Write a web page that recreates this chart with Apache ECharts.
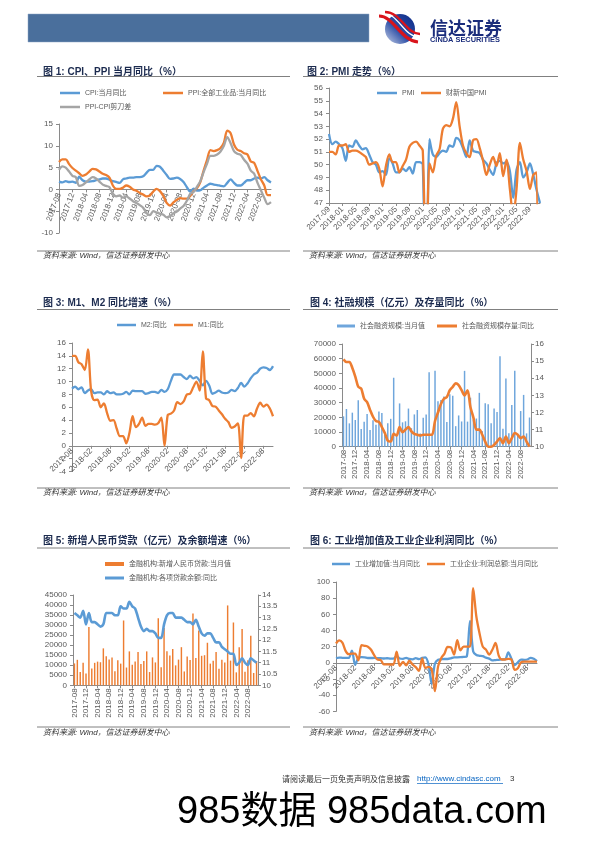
<!DOCTYPE html>
<html><head><meta charset="utf-8">
<script src="https://cdn.jsdelivr.net/npm/echarts@6/dist/echarts.min.js"></script>
<style>html,body{margin:0;padding:0;background:#fff;}#c{width:596px;height:842px;}</style>
</head><body><div id="c"></div>
<script>
// ---------- categories ----------
const months = ['2017-08','2017-09','2017-10','2017-11','2017-12',
'2018-01','2018-02','2018-03','2018-04','2018-05','2018-06','2018-07','2018-08','2018-09','2018-10','2018-11','2018-12',
'2019-01','2019-02','2019-03','2019-04','2019-05','2019-06','2019-07','2019-08','2019-09','2019-10','2019-11','2019-12',
'2020-01','2020-02','2020-03','2020-04','2020-05','2020-06','2020-07','2020-08','2020-09','2020-10','2020-11','2020-12',
'2021-01','2021-02','2021-03','2021-04','2021-05','2021-06','2021-07','2021-08','2021-09','2021-10','2021-11','2021-12',
'2022-01','2022-02','2022-03','2022-04','2022-05','2022-06','2022-07','2022-08','2022-09','2022-10','2022-11'];
const pmiMonths = ['2017-09','2017-10','2017-11','2017-12',
'2018-01','2018-02','2018-03','2018-04','2018-05','2018-06','2018-07','2018-08','2018-09','2018-10','2018-11','2018-12',
'2019-01','2019-02','2019-03','2019-04','2019-05','2019-06','2019-07','2019-08','2019-09','2019-10','2019-11','2019-12',
'2020-01','2020-02','2020-03','2020-04','2020-05','2020-06','2020-07','2020-08','2020-09','2020-10','2020-11','2020-12',
'2021-01','2021-02','2021-03','2021-04','2021-05','2021-06','2021-07','2021-08','2021-09','2021-10','2021-11','2021-12',
'2022-01','2022-02','2022-03','2022-04','2022-05','2022-06','2022-07','2022-08','2022-09','2022-10','2022-11','2022-12'];

// ---------- chart 1: CPI / PPI ----------
const cpi = [1.8,1.6,1.9,1.7,1.8, 1.5,2.9,2.1,1.8,1.8,1.9,2.1,2.3,2.5,2.5,2.2,1.9,
 1.7,1.5,2.3,2.5,2.7,2.7,2.8,2.8,3.0,3.8,4.5,4.5, 5.4,5.2,4.3,3.3,2.4,2.5,2.7,2.4,1.7,0.5,-0.5,0.2,
 -0.3,-0.2,0.4,0.9,1.3,1.1,1.0,0.8,0.7,1.5,2.3,1.5, 0.9,0.9,1.5,2.1,2.1,2.5,2.7,2.5,2.8,2.1,1.6];
const ppi = [6.3,6.9,6.9,5.8,4.9, 4.3,3.7,3.1,3.4,4.1,4.7,4.6,4.1,3.6,3.3,2.7,0.9,
 0.1,0.1,0.4,0.9,0.6,0.0,-0.3,-0.8,-1.2,-1.6,-1.4,-0.5, 0.1,-0.4,-1.5,-3.1,-3.7,-3.0,-2.4,-2.0,-2.1,-2.1,-1.5,-0.4,
 0.3,1.7,4.4,6.8,9.0,8.8,9.0,9.5,10.7,13.5,12.9,10.3, 9.1,8.8,8.3,8.0,6.4,6.1,4.2,2.3,0.9,-1.3,-1.3];
const scissors = [4.5,5.3,5.0,4.1,3.1, 2.8,0.8,1.0,1.6,2.3,2.8,2.5,1.8,1.1,0.8,0.5,-1.0,
 -1.6,-1.4,-1.9,-1.6,-2.1,-2.7,-3.1,-3.6,-4.2,-5.4,-5.9,-5.0, -5.3,-5.6,-5.8,-6.4,-6.1,-5.5,-5.1,-4.4,-3.8,-2.6,-1.0,-0.6,
 0.6,1.9,4.0,5.9,7.7,7.7,8.0,8.7,10.0,12.0,10.6,8.8, 8.2,7.9,6.8,5.9,4.3,3.6,1.5,-0.2,-1.9,-3.4,-2.9];

// ---------- chart 2: PMI ----------
const pmi = [52.4,51.6,51.8,51.6, 51.3,50.3,51.5,51.4,51.9,51.5,51.2,51.3,50.8,50.2,50.0,49.4,
 49.5,49.2,50.5,50.1,49.4,49.4,49.7,49.5,49.8,49.3,50.2,50.2, 50.0,35.7,52.0,50.8,50.6,50.9,51.1,51.0,51.5,51.4,52.1,51.9,
 51.3,50.6,51.9,51.1,51.0,50.9,50.4,50.1,49.6,49.2,50.1,50.3, 50.1,50.2,49.5,47.4,49.6,50.2,49.0,49.4,50.1,49.2,48.0,47.0];
const caixinPmi = [51.0,51.0,50.8,51.5, 51.5,51.6,51.0,51.1,51.1,51.0,50.8,50.6,50.0,50.1,50.2,49.7,
 48.3,49.9,50.8,50.2,50.2,49.4,49.9,50.4,51.4,51.7,51.8,51.5, 51.1,40.3,50.1,49.4,50.7,51.2,52.8,53.1,53.0,53.6,54.9,53.0,
 51.5,50.9,50.6,51.9,52.0,51.3,50.3,49.2,50.0,50.6,49.9,50.9, 49.1,50.4,48.1,46.0,48.1,51.7,50.4,49.5,48.1,49.2,49.4,0];

// ---------- chart 3: M1 / M2 ----------
const m2 = [8.9,9.2,8.8,9.1,8.2, 8.6,8.8,8.2,8.3,8.3,8.0,8.5,8.2,8.3,8.0,8.0,8.1,
 8.4,8.0,8.6,8.5,8.5,8.5,8.1,8.2,8.4,8.4,8.2,8.7, 8.4,8.8,10.1,11.1,11.1,11.1,10.7,10.4,10.9,10.5,10.7,10.1,
 9.4,10.1,9.4,8.1,8.3,8.6,8.3,8.2,8.3,8.7,8.5,9.0, 9.8,9.2,9.7,10.5,11.1,11.4,12.0,12.2,12.1,11.8,12.4];
const m1 = [14.0,14.0,13.0,12.7,11.8, 15.0,8.5,7.1,7.2,6.0,6.6,5.1,3.9,4.0,2.7,1.5,1.5,
 0.4,2.0,4.6,2.9,3.4,4.4,3.1,3.4,3.4,3.3,3.5,4.4, 0.0,4.8,5.0,5.5,6.8,6.5,6.9,8.0,8.1,9.1,10.0,8.6,
 14.7,7.4,7.1,6.2,6.1,5.5,4.9,4.2,3.7,2.8,3.0,3.5, -1.9,4.7,4.7,5.1,4.6,5.8,6.7,6.1,6.4,5.8,4.6];

// ---------- chart 4: TSF ----------
const tsfFlow = [20700,25700,15900,23200,18200, 31600,12000,17000,22300,11400,18000,15000,24000,23000,8500,16000,19000,
 47000,8000,29500,16600,17300,26000,12600,22000,25000,9000,19800,22000,
 50700,8554,51800,30900,31900,34300,16900,35800,34800,14000,21300,17200,
 51700,17100,33400,18500,19200,36700,10600,29600,29000,15900,26100,23700,
 61700,12200,46500,9102,28400,51700,7561,24300,35300,9079,19900];
const tsfStockYoY = [15.1,14.95,14.95,14.6,14.1, 13.5,13.4,12.8,12.6,12.15,11.75,11.5,11.45,11.15,10.8,10.35,10.3,
 10.75,10.65,11.15,10.85,11.0,11.15,10.9,10.75,10.7,10.65,10.7,10.7,
 10.7,10.7,11.5,12.0,12.5,12.8,12.9,13.3,13.5,13.7,13.6,13.3,
 13.0,13.3,12.3,11.7,11.0,11.0,10.7,10.3,10.0,10.0,10.1,10.3,
 10.5,10.2,10.6,10.2,10.5,10.8,10.7,10.5,10.6,10.3,10.0];

// ---------- chart 5: loans ----------
const newLoans = [10900,12700,6632,11200,5844, 29000,8393,11200,11800,11500,18400,14500,12800,13800,6970,12500,10800,
 32300,8858,16900,10200,11800,16600,10600,12100,16900,6613,13900,11400,
 33400,9057,28500,17000,14800,18100,9927,12800,19000,6898,14300,12600,
 35800,13600,27300,14700,15000,21200,10800,12200,16600,8262,12700,11300,
 39800,12300,31300,6454,18900,28100,6790,12500,24700,6152,12100];
const loanYoY = [13.2,13.1,13.0,13.3,12.7, 13.2,12.8,12.8,12.7,12.6,12.7,13.2,13.2,13.2,13.1,13.1,13.5,
 13.4,13.4,13.7,13.5,13.4,13.0,12.6,12.4,12.5,12.4,12.4,12.3,
 12.1,12.1,12.7,13.1,13.2,13.2,13.0,13.0,13.0,12.9,12.8,12.8,
 12.7,12.9,12.6,12.3,12.2,12.3,12.3,12.1,11.9,11.9,11.7,11.6,
 11.5,11.4,11.4,10.9,11.0,11.2,11.0,10.9,11.2,11.1,11.0];

// ---------- chart 6: industry ----------
const indValueAdded = [6.0,6.6,6.2,6.1,6.2, 15.0,-2.5,6.0,7.0,6.8,6.0,6.0,6.1,5.8,5.9,5.4,5.7,
 5.3,5.3,8.5,5.4,5.0,6.3,4.8,4.4,5.8,4.7,6.2,6.9,
 -2.0,-26.0,-1.1,3.9,4.4,4.8,4.8,5.6,6.9,6.9,7.0,7.3,
 8.0,52.0,14.1,9.8,8.8,8.3,6.4,5.3,3.1,3.5,3.8,4.3,
 4.3,12.8,5.0,-2.9,0.7,3.9,3.8,4.2,6.3,5.0,2.2];
const indProfit = [24.0,27.7,25.1,14.9,10.8, 11.5,11.5,3.1,21.9,21.1,20.0,16.2,9.2,4.1,3.6,-1.8,-1.9,
 -2.0,-2.0,13.9,-3.7,1.1,-3.1,2.6,-2.0,-5.3,-9.9,5.4,-6.3,
 -5.0,-8.0,-34.9,-4.3,6.0,11.5,19.6,19.1,10.1,28.2,15.5,20.1,
 20.1,20.1,92.3,57.0,36.4,20.0,16.4,10.1,16.3,24.6,9.0,4.2,
 4.2,5.0,4.0,-8.5,-6.5,0.8,1.5,1.5,1.5,1.5,1.5];

// ---------- styling helpers ----------
const FONT = '"Liberation Sans","Noto Sans CJK SC",sans-serif';
const AXC = '#8a8a8a', LBL = '#595959';
const BLUE = '#5B9BD5', ORANGE = '#ED7D31', GRAY = '#A5A5A5';

// offset < 0 lifts the category axis (with its labels) up to the value axis' zero line
function xCat(gi, data, interval, rotate, boundaryGap, margin, offset) {
  return {type:'category', gridIndex:gi, data:data, boundaryGap:boundaryGap, position:'bottom', offset:offset || 0,
    axisLine:{show:true, onZero:false, lineStyle:{color:AXC, width:1}},
    axisTick:{show:true, interval:interval, length:3, alignWithLabel:boundaryGap, lineStyle:{color:AXC}},
    axisLabel:{interval:interval, rotate:rotate, fontSize:8, color:LBL, fontFamily:FONT, margin:margin},
    splitLine:{show:false}};
}
function yVal(gi, min, max, interval, position, margin) {
  return {type:'value', gridIndex:gi, min:min, max:max, interval:interval, position:position || 'left',
    axisLine:{show:true, lineStyle:{color:AXC}},
    axisTick:{show:true, length:3, lineStyle:{color:AXC}},
    axisLabel:{fontSize:8, color:LBL, fontFamily:FONT, margin:margin || 5, formatter:function(v){return String(v);}},
    splitLine:{show:false}};
}
function grid(l, t, w, h) {
  return {left:l, top:t, width:w, height:h, containLabel:false, outerBoundsMode:'none', show:false};
}
function line(name, xi, yi, data, color, width) {
  return {type:'line', name:name, xAxisIndex:xi, yAxisIndex:yi, data:data, color:color,
    lineStyle:{width:width || 2.3, color:color}, showSymbol:false, symbol:'none', smooth:0.3, clip:true, z:3};
}
function bar(name, xi, yi, data, color) {
  return {type:'bar', name:name, xAxisIndex:xi, yAxisIndex:yi, data:data, color:color,
    itemStyle:{color:color}, barWidth:'50%', z:2};
}
function lg(name, left, cy, w, h) {
  return {data:[name], left:left, top:cy - 5, itemWidth:w, itemHeight:h, icon:'rect', padding:0, itemGap:0,
    selectedMode:false, textStyle:{fontSize:7, color:LBL, fontFamily:FONT, lineHeight:10}};
}
function txt(s, x, y, font, fill, align) {
  return {type:'text', x:x, y:y, silent:true, z:20,
    style:{text:s, font:font, fill:fill, align:align || 'left', verticalAlign:'middle'}};
}
function hl(x1, x2, y, color, w) {
  return {type:'line', silent:true, z:20, shape:{x1:x1, y1:y, x2:x2, y2:y}, style:{stroke:color || '#808080', lineWidth:w || 1}};
}

const TFONT = 'bold 10px "Liberation Sans","Noto Sans CJK SC",sans-serif';
const TCOL = '#1c2b4f';
const SFONT = 'italic 8px "Liberation Sans","Noto Sans CJK SC",sans-serif';
const SCOL = '#333333';
const SRC = '资料来源: Wind，信达证券研发中心';

const chart = echarts.init(document.getElementById('c'), null, {renderer:'canvas', width:596, height:842});

const option = {
  animation:false,
  backgroundColor:'#ffffff',
  textStyle:{fontFamily:FONT},
  grid:[
    grid(59, 124, 212, 109),
    grid(329, 88, 211, 115),
    grid(72, 343, 201, 128.5),
    grid(342, 344, 189, 102.7),
    grid(73, 595, 185, 90.3),
    grid(336, 582, 201, 129.4)
  ],
  xAxis:[
    xCat(0, months, 3, 70, false, 4, -43.6),
    xCat(1, pmiMonths, 3, 45, false, 5, 0),
    xCat(2, months, 5, 45, false, 4, -25.7),
    xCat(3, months, 3, 90, true, 3, 0),
    xCat(4, months, 3, 90, true, 3, 0),
    xCat(5, months, 5, 45, false, 4, -48.5)
  ],
  yAxis:[
    yVal(0, -10, 15, 5, 'left', 6),
    yVal(1, 47, 56, 1, 'left', 6),
    yVal(2, -4, 16, 2, 'left', 6),
    yVal(3, 0, 70000, 10000, 'left', 6),
    yVal(3, 10, 16, 1, 'right', 4),
    yVal(4, 0, 45000, 5000, 'left', 6),
    yVal(4, 10, 14, 0.5, 'right', 4),
    yVal(5, -60, 100, 20, 'left', 6)
  ],
  legend:[
    lg('CPI:当月同比', 60, 93, 20, 2.5),
    lg('PPI:全部工业品:当月同比', 163, 93, 20, 2.5),
    lg('PPI-CPI剪刀差', 60, 107, 20, 2.5),
    lg('PMI', 377, 93, 20, 2.5),
    lg('财新中国PMI', 421, 93, 20, 2.5),
    lg('M2:同比', 117, 325, 19, 2.5),
    lg('M1:同比', 174, 325, 19, 2.5),
    lg('社会融资规模:当月值', 337, 326, 18, 3),
    lg('社会融资规模存量:同比', 437, 326, 20, 3),
    lg('金融机构:新增人民币贷款:当月值', 105, 564, 19, 4),
    lg('金融机构:各项贷款余额:同比', 105, 578, 19, 3),
    lg('工业增加值:当月同比', 332, 564, 18, 2.5),
    lg('工业企业:利润总额:当月同比', 427, 564, 18, 2.5)
  ],
  series:[
    line('CPI:当月同比', 0, 0, cpi, BLUE),
    line('PPI:全部工业品:当月同比', 0, 0, ppi, ORANGE),
    line('PPI-CPI剪刀差', 0, 0, scissors, GRAY),
    line('PMI', 1, 1, pmi, BLUE),
    line('财新中国PMI', 1, 1, caixinPmi, ORANGE),
    line('M2:同比', 2, 2, m2, BLUE),
    line('M1:同比', 2, 2, m1, ORANGE),
    bar('社会融资规模:当月值', 3, 3, tsfFlow, '#6FA6DC'),
    line('社会融资规模存量:同比', 3, 4, tsfStockYoY, ORANGE, 2.6),
    bar('金融机构:新增人民币贷款:当月值', 4, 5, newLoans, ORANGE),
    line('金融机构:各项贷款余额:同比', 4, 6, loanYoY, BLUE, 2.6),
    line('工业增加值:当月同比', 5, 7, indValueAdded, BLUE),
    line('工业企业:利润总额:当月同比', 5, 7, indProfit, ORANGE)
  ],
  graphic:[
    // header bar
    {type:'rect', silent:true, shape:{x:28, y:14, width:341, height:28}, style:{fill:'#4A6F9C', stroke:'#8fa6c4', lineWidth:0.5}},
    // logo
    {type:'circle', silent:true, shape:{cx:400, cy:29, r:15},
      style:{fill:new echarts.graphic.LinearGradient(1,0,0,1,[{offset:0,color:'#0d2a86'},{offset:0.55,color:'#2c4ea6'},{offset:1,color:'#c9d3e8'}])}},
    {type:'bezierCurve', silent:true, shape:{x1:379, y1:16, cpx1:394, cpy1:16, cpx2:400, cpy2:40, x2:418, y2:42}, style:{stroke:'#d9141b', lineWidth:3.2, fill:null}},
    {type:'bezierCurve', silent:true, shape:{x1:383, y1:13, cpx1:398, cpy1:13, cpx2:404, cpy2:37, x2:419, y2:37}, style:{stroke:'#ffffff', lineWidth:1.2, fill:null}},
    {type:'bezierCurve', silent:true, shape:{x1:385, y1:12, cpx1:401, cpy1:12, cpx2:406, cpy2:34, x2:420, y2:34}, style:{stroke:'#d9141b', lineWidth:2.4, fill:null}},
    txt('信达证券', 430, 28, 'bold 18px "Noto Sans CJK SC",sans-serif', '#1b2d7c'),
    txt('CINDA SECURITIES', 430, 39.5, 'bold 7.4px "Liberation Sans",sans-serif', '#1b2d7c'),
    // titles
    txt('图 1: CPI、PPI 当月同比（%）', 43, 72, TFONT, TCOL),
    txt('图 2: PMI 走势（%）', 307, 72, TFONT, TCOL),
    txt('图 3: M1、M2 同比增速（%）', 43, 303, TFONT, TCOL),
    txt('图 4: 社融规模（亿元）及存量同比（%）', 310, 303, TFONT, TCOL),
    txt('图 5: 新增人民币贷款（亿元）及余额增速（%）', 43, 541, TFONT, TCOL),
    txt('图 6: 工业增加值及工业企业利润同比（%）', 310, 541, TFONT, TCOL),
    hl(37, 290, 76.5), hl(303, 558, 76.5),
    hl(37, 290, 309.5), hl(303, 558, 309.5),
    hl(37, 290, 548), hl(303, 558, 548),
    // sources
    hl(37, 290, 251), hl(303, 558, 251),
    hl(37, 290, 488), hl(303, 558, 488),
    hl(37, 290, 727), hl(303, 558, 727),
    txt(SRC, 43, 256, SFONT, SCOL), txt(SRC, 309, 256, SFONT, SCOL),
    txt(SRC, 43, 493, SFONT, SCOL), txt(SRC, 309, 493, SFONT, SCOL),
    txt(SRC, 43, 733, SFONT, SCOL), txt(SRC, 309, 733, SFONT, SCOL),
    // footer
    txt('请阅读最后一页免责声明及信息披露', 282, 779, '8px "Noto Sans CJK SC",sans-serif', '#333333'),
    txt('http://www.cindasc.com', 417, 779, '8px "Liberation Sans",sans-serif', '#0563C1'),
    hl(417, 503, 783.5, '#0563C1', 0.7),
    txt('3', 510, 779, '8px "Liberation Sans",sans-serif', '#333333'),
    txt('985数据 985data.com', 177, 813, '38px "Liberation Sans","Noto Sans CJK SC",sans-serif', '#000000')
  ]
};
chart.setOption(option);
</script></body></html>
